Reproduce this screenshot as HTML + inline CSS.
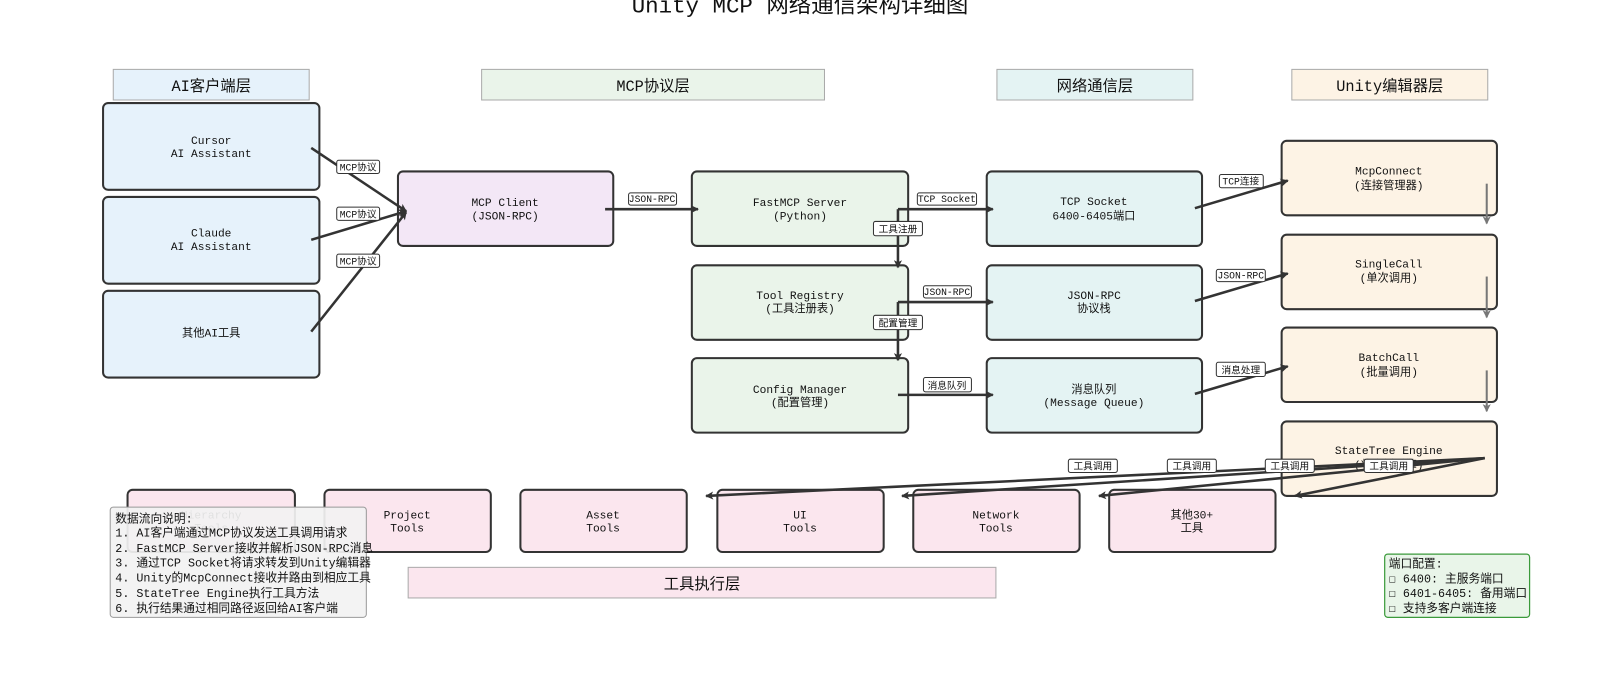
<!DOCTYPE html>
<html><head><meta charset="utf-8"><style>
html,body{margin:0;padding:0;background:#fff;overflow:hidden;}
svg{display:block;}
text{font-family:"WenQuanYi Zen Hei Mono","WenQuanYi Zen Hei","Liberation Mono","Noto Sans CJK SC",monospace;fill:#111;}
.n{font-size:11px;text-anchor:middle;}
.l{font-size:9.5px;text-anchor:middle;}
.h{font-size:15px;text-anchor:middle;}
.box{stroke:#333;stroke-width:2;}
.ar{stroke:#333;stroke-width:2.5;fill:none;marker-end:url(#a);}
.ag{stroke:#777;stroke-width:2;fill:none;marker-end:url(#g);}
.lb{fill:#fff;stroke:#333;stroke-width:1;}
</style></head><body>
<svg width="1600" height="687" viewBox="0 0 1568 673.26" preserveAspectRatio="none" xmlns="http://www.w3.org/2000/svg">
<defs>
<marker id="a" markerWidth="8" markerHeight="8" refX="7" refY="4" orient="auto" markerUnits="userSpaceOnUse"><path d="M0,0 L8,4 L0,8 L2,4 z" fill="#333"/></marker>
<marker id="g" markerWidth="8" markerHeight="8" refX="7" refY="4" orient="auto" markerUnits="userSpaceOnUse"><path d="M0,0 L8,4 L0,8 L2,4 z" fill="#777"/></marker>
</defs>
<text x="784" y="12" style="font-size:22px;text-anchor:middle">Unity MCP 网络通信架构详细图</text>

<rect x="111" y="68" width="192" height="30" fill="#e6f2fb" stroke="#aaa"/><text class="h" x="207" y="89">AI客户端层</text>
<rect x="472" y="68" width="336" height="30" fill="#eaf4ea" stroke="#aaa"/><text class="h" x="640" y="89">MCP协议层</text>
<rect x="977" y="68" width="192" height="30" fill="#e4f3f3" stroke="#aaa"/><text class="h" x="1073" y="89">网络通信层</text>
<rect x="1266" y="68" width="192" height="30" fill="#fdf3e5" stroke="#aaa"/><text class="h" x="1362" y="89">Unity编辑器层</text>
<rect x="400" y="556" width="576" height="30" fill="#fbe6ee" stroke="#aaa"/><text class="h" x="688" y="577">工具执行层</text>

<g fill="#e6f2fb" class="box">
<rect x="101" y="101" width="212" height="85" rx="5"/>
<rect x="101" y="193" width="212" height="85" rx="5"/>
<rect x="101" y="285" width="212" height="85" rx="5"/>
</g>
<text class="n" x="207" y="141">Cursor</text><text class="n" x="207" y="154">AI Assistant</text>
<text class="n" x="207" y="232">Claude</text><text class="n" x="207" y="245">AI Assistant</text>
<text class="n" x="207" y="330">其他AI工具</text>

<rect class="box" x="390" y="168" width="211" height="73" rx="5" fill="#f3e7f6"/>
<text class="n" x="495" y="202">MCP Client</text><text class="n" x="495" y="215">(JSON-RPC)</text>

<g fill="#eaf4ea" class="box">
<rect x="678" y="168" width="212" height="73" rx="5"/>
<rect x="678" y="260" width="212" height="73" rx="5"/>
<rect x="678" y="351" width="212" height="73" rx="5"/>
</g>
<text class="n" x="784" y="202">FastMCP Server</text><text class="n" x="784" y="215">(Python)</text>
<text class="n" x="784" y="293">Tool Registry</text><text class="n" x="784" y="306">(工具注册表)</text>
<text class="n" x="784" y="385">Config Manager</text><text class="n" x="784" y="398">(配置管理)</text>

<g fill="#e4f3f3" class="box">
<rect x="967" y="168" width="211" height="73" rx="5"/>
<rect x="967" y="260" width="211" height="73" rx="5"/>
<rect x="967" y="351" width="211" height="73" rx="5"/>
</g>
<text class="n" x="1072" y="201">TCP Socket</text><text class="n" x="1072" y="215">6400-6405端口</text>
<text class="n" x="1072" y="293">JSON-RPC</text><text class="n" x="1072" y="306">协议栈</text>
<text class="n" x="1072" y="385">消息队列</text><text class="n" x="1072" y="398">(Message Queue)</text>

<g fill="#fdf3e5" class="box">
<rect x="1256" y="138" width="211" height="73" rx="5"/>
<rect x="1256" y="230" width="211" height="73" rx="5"/>
<rect x="1256" y="321" width="211" height="73" rx="5"/>
<rect x="1256" y="413" width="211" height="73" rx="5"/>
</g>
<text class="n" x="1361" y="171">McpConnect</text><text class="n" x="1361" y="185">(连接管理器)</text>
<text class="n" x="1361" y="262">SingleCall</text><text class="n" x="1361" y="276">(单次调用)</text>
<text class="n" x="1361" y="354">BatchCall</text><text class="n" x="1361" y="368">(批量调用)</text>
<text class="n" x="1361" y="445">StateTree Engine</text><text class="n" x="1361" y="459">(状态树引擎)</text>

<g fill="#fbe6ee" class="box">
<rect x="125" y="480" width="164" height="61" rx="5"/>
<rect x="318" y="480" width="163" height="61" rx="5"/>
<rect x="510" y="480" width="163" height="61" rx="5"/>
<rect x="703" y="480" width="163" height="61" rx="5"/>
<rect x="895" y="480" width="163" height="61" rx="5"/>
<rect x="1087" y="480" width="163" height="61" rx="5"/>
</g>
<text class="n" x="207" y="508">Hierarchy</text><text class="n" x="207" y="521">Tools</text>
<text class="n" x="399" y="508">Project</text><text class="n" x="399" y="521">Tools</text>
<text class="n" x="591" y="508">Asset</text><text class="n" x="591" y="521">Tools</text>
<text class="n" x="784" y="508">UI</text><text class="n" x="784" y="521">Tools</text>
<text class="n" x="976" y="508">Network</text><text class="n" x="976" y="521">Tools</text>
<text class="n" x="1168" y="508">其他30+</text><text class="n" x="1168" y="521">工具</text>

<line class="ar" x1="305" y1="145" x2="398" y2="207"/>
<line class="ar" x1="305" y1="235" x2="398" y2="207"/>
<line class="ar" x1="305" y1="325" x2="398" y2="208"/>
<line class="ar" x1="593" y1="205" x2="684" y2="205"/>
<line class="ar" x1="880" y1="205" x2="973" y2="205"/>
<line class="ar" x1="880" y1="205" x2="880" y2="262"/>
<line class="ar" x1="880" y1="296" x2="973" y2="296"/>
<line class="ar" x1="880" y1="296" x2="880" y2="353"/>
<line class="ar" x1="880" y1="387" x2="973" y2="387"/>
<line class="ar" x1="1171" y1="204" x2="1262" y2="177"/>
<line class="ar" x1="1171" y1="295" x2="1262" y2="268"/>
<line class="ar" x1="1171" y1="386" x2="1262" y2="359"/>
<line class="ag" x1="1457" y1="180" x2="1457" y2="219"/>
<line class="ag" x1="1457" y1="271" x2="1457" y2="311"/>
<line class="ag" x1="1457" y1="363" x2="1457" y2="403"/>
<line class="ar" x1="1455" y1="449" x2="692" y2="486"/>
<line class="ar" x1="1455" y1="449" x2="884" y2="486"/>
<line class="ar" x1="1455" y1="449" x2="1077" y2="486"/>
<line class="ar" x1="1455" y1="449" x2="1269" y2="486"/>

<g>
<rect class="lb" x="330" y="157" width="42" height="13" rx="2"/><text class="l" x="351" y="167">MCP协议</text>
<rect class="lb" x="330" y="203" width="42" height="13" rx="2"/><text class="l" x="351" y="213">MCP协议</text>
<rect class="lb" x="330" y="249" width="42" height="13" rx="2"/><text class="l" x="351" y="259">MCP协议</text>
<rect class="lb" x="616" y="189" width="47" height="12" rx="2"/><text class="l" x="639" y="198">JSON-RPC</text>
<rect class="lb" x="899" y="189" width="58" height="12" rx="2"/><text class="l" x="928" y="198">TCP Socket</text>
<rect class="lb" x="856" y="217" width="48" height="14" rx="2"/><text class="l" x="880" y="228">工具注册</text>
<rect class="lb" x="905" y="280" width="47" height="12" rx="2"/><text class="l" x="928" y="289">JSON-RPC</text>
<rect class="lb" x="856" y="309" width="48" height="14" rx="2"/><text class="l" x="880" y="320">配置管理</text>
<rect class="lb" x="905" y="370" width="47" height="14" rx="2"/><text class="l" x="928" y="381">消息队列</text>
<rect class="lb" x="1195" y="171" width="43" height="13" rx="2"/><text class="l" x="1216" y="181">TCP连接</text>
<rect class="lb" x="1192" y="264" width="48" height="12" rx="2"/><text class="l" x="1216" y="273">JSON-RPC</text>
<rect class="lb" x="1192" y="355" width="48" height="14" rx="2"/><text class="l" x="1216" y="366">消息处理</text>
<rect class="lb" x="1047" y="450" width="48" height="13" rx="2"/><text class="l" x="1071" y="460">工具调用</text>
<rect class="lb" x="1144" y="450" width="48" height="13" rx="2"/><text class="l" x="1168" y="460">工具调用</text>
<rect class="lb" x="1240" y="450" width="48" height="13" rx="2"/><text class="l" x="1264" y="460">工具调用</text>
<rect class="lb" x="1337" y="450" width="48" height="13" rx="2"/><text class="l" x="1361" y="460">工具调用</text>
</g>

<rect x="108" y="497" width="251" height="108" rx="3" fill="#f2f2f2" fill-opacity="0.92" stroke="#999"/>
<g style="font-size:11.5px">
<text x="113" y="512">数据流向说明:</text>
<text x="113" y="526">1. AI客户端通过MCP协议发送工具调用请求</text>
<text x="113" y="541">2. FastMCP Server接收并解析JSON-RPC消息</text>
<text x="113" y="555">3. 通过TCP Socket将请求转发到Unity编辑器</text>
<text x="113" y="570">4. Unity的McpConnect接收并路由到相应工具</text>
<text x="113" y="585">5. StateTree Engine执行工具方法</text>
<text x="113" y="600">6. 执行结果通过相同路径返回给AI客户端</text>
</g>
<rect x="1357" y="543" width="142" height="62" rx="3" fill="#e9f5e9" stroke="#3a9a3a" stroke-width="1.2"/>
<g style="font-size:11.5px">
<text x="1361" y="556">端口配置:</text>
<text x="1361" y="571">☐ 6400: 主服务端口</text>
<text x="1361" y="585">☐ 6401-6405: 备用端口</text>
<text x="1361" y="600">☐ 支持多客户端连接</text>
</g>
</svg>
</body></html>
